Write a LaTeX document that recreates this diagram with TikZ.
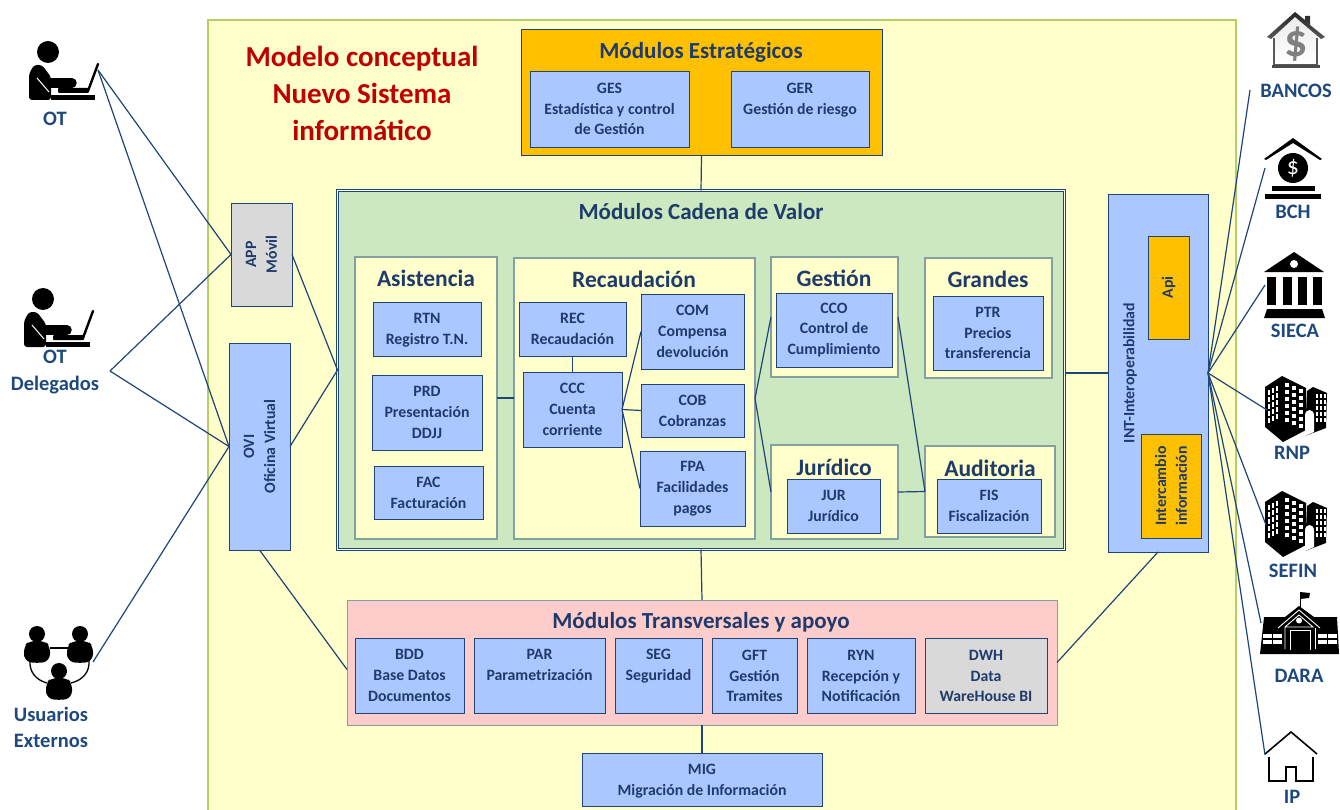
\documentclass[tikz,border=0pt]{standalone}
\usepackage{fontspec}
\setmainfont{Carlito}
\usetikzlibrary{positioning,shapes.geometric}
\definecolor{navytext}{HTML}{1F3B6B}
\definecolor{labeltext}{HTML}{1F497D}
\definecolor{linkblue}{HTML}{1F4477}
\definecolor{boxblue}{HTML}{ABC7FF}
\definecolor{boxedge}{HTML}{1F4477}
\definecolor{panelgreen}{HTML}{CBE8C0}
\definecolor{paleyellow}{HTML}{FFFFCC}
\definecolor{mainedge}{HTML}{B5CF67}
\definecolor{groupedge}{HTML}{84A0A0}
\definecolor{panelpink}{HTML}{FFCCCC}
\definecolor{amberbox}{HTML}{FFC000}
\definecolor{greybox}{HTML}{D9D9D9}
\definecolor{titlered}{HTML}{C00000}
\tikzset{
  laptop user/.pic={
    \fill (48,52) circle[radius=11pt];
    \fill[rounded corners=3pt] (29,100) -- (29,74) -- (34,65) -- (42,65) -- (51,77) -- (51,100) -- cycle;
    \draw[line width=9.5pt,line cap=round] (50,83) -- (72,83);
    \draw[white,line width=1pt] (37,78) -- (49,92);
    \fill (51,95) rectangle (95,100);
    \fill[rounded corners=1pt] (58,88) rectangle (89,93);
    \draw[line width=2.4pt,line cap=round] (88,91) -- (98,64);
  },
  bust/.pic={
    \fill (0,-9) circle[radius=8pt];
    \fill[rounded corners=6pt] (-13,17) -- (-13,3) -- (-8,-2) -- (8,-2) -- (13,3) -- (13,17) .. controls (5,20) and (-5,20) .. cycle;
  },
  tower/.pic={
    \fill (-1,9) -- (16,-2) -- (40,10) -- (40,52) -- (17,64) -- (-1,49) -- cycle;
    \fill (41,13) -- (47,9) -- (61,15) -- (60,50) -- (39,58) -- cycle;
    \foreach \wx/\wo in {1.5/0,5.5/-2,9.5/-4}
      \foreach \wy in {12,19,26,33,40}
        \fill[white] (\wx,{\wy+\wo}) rectangle +(2.4,4.6);
    \foreach \wx/\wo in {19/0,26/3,33/6}
      \foreach \wy in {5,12,19,26,33,40}
        \fill[white] (\wx,{\wy+\wo}) rectangle +(4.4,4.4);
    \foreach \wx in {50,54,58}
      \foreach \wy in {16,22,28,34,40}
        \fill[white] (\wx,\wy) rectangle +(2.4,3.6);
    \fill[white] (39,58) -- (39,38) .. controls (39,34) and (41,32) .. (43.5,32) .. controls (46,32) and (48,34) .. (48,38) -- (48,54) -- cycle;
  }
}
\begin{document}
\begin{tikzpicture}[
    x=1pt,y=-1pt,
    font=\bfseries,
    every edge/.style={draw=linkblue,line width=1.2pt},
    main panel/.style={draw=mainedge,line width=1.8pt,fill=paleyellow},
    strip panel/.style={draw=groupedge,line width=1pt,outer sep=0pt,inner sep=0pt},
    group box/.style={draw=groupedge,line width=1.3pt,fill=paleyellow,outer sep=0pt,inner sep=0pt},
    module box/.style={draw=boxedge,line width=.9pt,fill=boxblue,outer sep=0pt,inner sep=0pt,
      align=center,text=navytext,font=\fontsize{15.8}{20.8}\selectfont\bfseries},
    two line/.style={module box,text depth=-2.5pt},
    amber box/.style={module box,fill=amberbox},
    grey box/.style={module box,fill=greybox},
    panel title/.style={text=navytext,font=\fontsize{23}{26}\selectfont\bfseries},
    group title/.style={text=navytext,font=\fontsize{23.5}{26}\selectfont\bfseries},
    actor label/.style={text=labeltext,align=center,font=\fontsize{20.5}{26.5}\selectfont\bfseries}]

  \useasboundingbox (0,0) rectangle (1340,810);

  \path[main panel] (208,20) rectangle (1236,820);
  \node[text=titlered,align=center,font=\fontsize{29}{37}\selectfont\bfseries] (Title) at (362,93)
    {Modelo conceptual\\Nuevo Sistema\\informático};

  % modulos estrategicos
  \node[strip panel,draw=boxedge,fill=amberbox,minimum width=361pt,minimum height=126pt] (Estrategicos) at (701.5,93) {};
  \node[panel title] (EstrategicosT) at (701,52) {Módulos Estratégicos};
  \node[module box,minimum width=159pt,minimum height=76pt] (GES) at (609.5,109) {GES\\Estadística y control\\de Gestión};
  \node[module box,minimum width=138pt,minimum height=76pt] (GER) at (800,109) {GER\\Gestión de riesgo\\\mbox{}};

  % cadena de valor
  \node[strip panel,draw=boxedge,double,double distance=1pt,fill=panelgreen,minimum width=727pt,minimum height=359pt] (Cadena) at (701,370) {};
  \node[panel title] (CadenaT) at (701,212) {Módulos Cadena de Valor};

  \node[group box,minimum width=142pt,minimum height=282pt] (Asistencia) at (426,398) {};
  \node[group title] (AsistenciaT) at (426,278) {Asistencia};
  \node[two line,minimum width=108pt,minimum height=54pt] (RTN) at (427,329) {RTN\\Registro T.N.};
  \node[module box,minimum width=110pt,minimum height=75pt] (PRD) at (427,412.5) {PRD\\Presentación\\DDJJ};
  \node[two line,minimum width=109pt,minimum height=53pt] (FAC) at (428.5,492.5) {FAC\\Facturación};

  \node[group box,minimum width=241pt,minimum height=281pt] (Recaudacion) at (634.5,398.5) {};
  \node[group title] (RecaudacionT) at (634,279) {Recaudación};
  \node[two line,minimum width=107pt,minimum height=54pt] (REC) at (572.5,329) {REC\\Recaudación};
  \node[module box,minimum width=99pt,minimum height=75pt] (CCC) at (572.5,409.5) {CCC\\Cuenta\\corriente};
  \node[module box,minimum width=103pt,minimum height=75pt] (COM) at (692.5,331.5) {COM\\Compensa\\devolución};
  \node[two line,minimum width=103pt,minimum height=53pt] (COB) at (692.5,410.5) {COB\\Cobranzas};
  \node[module box,minimum width=105pt,minimum height=75pt] (FPA) at (692.5,488.5) {FPA\\Facilidades\\pagos};

  \node[group box,minimum width=127pt,minimum height=120pt] (Gestion) at (834.5,317) {};
  \node[group title] (GestionT) at (834,278) {Gestión};
  \node[module box,minimum width=116pt,minimum height=74pt] (CCO) at (834,330) {CCO\\Control de\\Cumplimiento};

  \node[group box,minimum width=127pt,minimum height=120pt] (Grandes) at (988.5,318) {};
  \node[group title] (GrandesT) at (988,279) {Grandes};
  \node[module box,minimum width=110pt,minimum height=74pt] (PTR) at (988,333) {PTR\\Precios\\transferencia};

  \node[group box,minimum width=127pt,minimum height=94pt] (Juridico) at (834.5,492) {};
  \node[group title] (JuridicoT) at (834,467) {Jurídico};
  \node[two line,minimum width=93pt,minimum height=54pt] (JUR) at (833.5,506) {JUR\\Jurídico};

  \node[group box,minimum width=130pt,minimum height=91pt] (Auditoria) at (990,491.5) {};
  \node[group title] (AuditoriaT) at (990,468) {Auditoria};
  \node[two line,minimum width=104pt,minimum height=54pt] (FIS) at (989,506) {FIS\\Fiscalización};

  % canales
  \node[grey box,rotate=90,minimum width=103pt,minimum height=61pt] (APP) at (261.5,254.5) {APP\\Móvil};
  \node[module box,rotate=90,minimum width=207pt,minimum height=61pt] (OVI) at (259.5,446.5) {OVI\\Oficina Virtual};

  % interoperabilidad
  \node[module box,minimum width=100pt,minimum height=358pt] (INT) at (1158,373) {};
  \node[text=navytext,rotate=90,font=\fontsize{15.8}{20.8}\selectfont\bfseries] (INTT) at (1130,373) {INT-Interoperabilidad};
  \node[amber box,rotate=90,minimum width=103pt,minimum height=41pt] (Api) at (1168.5,287.5) {Api};
  \node[amber box,rotate=90,minimum width=104pt,minimum height=60pt] (Intercambio) at (1171,486) {Intercambio\\información};

  % transversales
  \node[strip panel,fill=panelpink,minimum width=710pt,minimum height=125pt] (Transversales) at (702,662.5) {};
  \node[panel title] (TransversalesT) at (701,622) {Módulos Transversales y apoyo};
  \node[module box,minimum width=109pt,minimum height=75pt] (BDD) at (409.5,675.5) {BDD\\Base Datos\\Documentos};
  \node[module box,minimum width=131pt,minimum height=75pt] (PAR) at (539.5,675.5) {PAR\\Parametrización\\\mbox{}};
  \node[module box,minimum width=87pt,minimum height=75pt] (SEG) at (658.5,675.5) {SEG\\Seguridad\\\mbox{}};
  \node[module box,minimum width=85pt,minimum height=75pt] (GFT) at (754.5,676) {GFT\\Gestión\\Tramites};
  \node[module box,minimum width=108pt,minimum height=75pt] (RYN) at (861,676) {RYN\\Recepción y\\Notificación};
  \node[grey box,minimum width=122pt,minimum height=75pt] (DWH) at (986,676) {DWH\\Data\\WareHouse BI};

  \node[two line,minimum width=240pt,minimum height=53pt] (MIG) at (702,779.5) {MIG\\Migración de Información};

  % actores
  \pic (IconOT) at (0,0) {laptop user};
  \node[actor label] (OT) at (55,119) {OT};
  \coordinate (OTend) at (98,70);
  \pic (IconDelegados) at (-5,247) {laptop user};
  \node[actor label] (Delegados) at (55,372) {OT\\Delegados};
  \coordinate (Delegadosend) at (110,371);

  \pic (IconUsuarioA) at (37,643) {bust};
  \pic (IconUsuarioB) at (80,643) {bust};
  \pic (IconUsuarioC) at (59,680) {bust};
  \draw[line width=1.3pt] (50,648) -- (68,648);
  \draw[line width=1.3pt] (30,660) .. controls (29,672) and (36,680) .. (47,683);
  \draw[line width=1.3pt] (89,660) .. controls (90,672) and (83,680) .. (71,683);
  \node[actor label] (Usuarios) at (51,727.5) {Usuarios\\Externos};
  \coordinate (Usuariosend) at (93,662);

  % entidades
  \fill[white,top color=gray!15,bottom color=white] (1273,36) -- (1295,18) -- (1318,36) -- (1318,65) -- (1273,65) -- cycle;
  \path[top color=black!85,bottom color=black!65] (1267,37) -- (1295,12) -- (1305,20) -- (1305,16) -- (1310,16) -- (1310,25) -- (1325,37) -- (1321,39) -- (1295,17) -- (1271,39) -- cycle;
  \draw[gray!70!black,line width=1.6pt] (1274,38) -- (1274,65) -- (1317,65) -- (1317,38);
  \fill[black!70] (1272,65) rectangle (1320,68);
  \node[text=gray,font=\fontsize{46}{46}\selectfont\bfseries] (IconBancos) at (1296,44) {\$};
  \node[actor label] (BANCOS) at (1296,91) {BANCOS};
  \coordinate (BANCOSend) at (1250,90);

  \fill (1264,159) -- (1293,138) -- (1322,159) -- (1320,160) -- (1293,143) -- (1266,160) -- cycle;
  \node[circle,fill=black,text=white,minimum size=30pt,inner sep=0pt,font=\fontsize{24}{24}\selectfont] (IconBCH) at (1293,168) {\$};
  \fill (1272,186) rectangle (1315,191);
  \fill (1265,194) rectangle (1321,199);
  \node[actor label] (BCH) at (1293,212) {BCH};
  \coordinate (BCHend) at (1265,168);

  \fill (1264,272) -- (1294,252) -- (1324,272) -- cycle;
  \fill[white] (1294,264) circle[radius=4pt];
  \foreach \colx in {1267,1283,1298,1313}
    \fill (\colx,277) rectangle +(9,28);
  \fill (1264,318) -- (1267,309) -- (1322,309) -- (1325,318) -- cycle;
  \node[actor label] (SIECA) at (1295,331) {SIECA};
  \coordinate (SIECAend) at (1265,285);

  \pic (IconRNP) at (1266,378) {tower};
  \node[actor label] (RNP) at (1292,453) {RNP};
  \coordinate (RNPend) at (1267,410);
  \pic (IconSEFIN) at (1266,493) {tower};
  \node[actor label] (SEFIN) at (1293,571) {SEFIN};
  \coordinate (SEFINend) at (1266,525);

  \fill (1264,617) -- (1285,617) -- (1299,606) -- (1314,617) -- (1337,617) -- (1339,654) -- (1260,654) -- cycle;
  \draw[line width=1pt] (1300,608) -- (1300,594);
  \fill (1300,592) -- (1310,593) -- (1309,598) -- (1300,599) -- cycle;
  \draw[white,line width=.9pt] (1278,628) -- (1299,610) -- (1320,628);
  \draw[white,line width=.9pt] (1285,649) -- (1285,627) -- (1299,615) -- (1313,627) -- (1285,627);
  \draw[white,line width=.9pt] (1315,628) -- (1315,649);
  \draw[white,line width=.9pt] (1290,650) -- (1290,630) -- (1310,630) -- (1310,650);
  \fill[white] (1299,620.5) circle[radius=3pt];
  \foreach \winx in {1263,1273,1318,1328}
    \foreach \winy in {634,640}
      \fill[white] (\winx,\winy) rectangle +(8.5,4);
  \node[actor label] (DARA) at (1299,676) {DARA};
  \coordinate (DARAend) at (1261,623);

  \draw[line width=1.6pt] (1265,754) -- (1291,732) -- (1317,754);
  \draw[line width=1.6pt] (1269,757) -- (1269,781) -- (1286,781) -- (1286,767) -- (1296,767) -- (1296,781) -- (1313,781) -- (1313,757);
  \node[actor label] (IP) at (1292,797) {IP};
  \coordinate (IPend) at (1265,755);

  \path
    (OTend)
         edge (APP.north)
         edge (OVI.north)
    (Delegadosend)
         edge (APP.north)
         edge (OVI.north)
    (Usuariosend)
         edge (OVI.north)
    (Cadena.west)
         edge (APP.south)
         edge (OVI.south)
    (OVI.west)
         edge ([yshift=-7pt]Transversales.west)
    (Estrategicos.south)
         edge (Cadena.north)
    (Cadena.south)
         edge (Transversales.north)
    (Transversales.south)
         edge (MIG.north)
    (INT.west)
         edge (INT.west -| Cadena.east)
    (INT.south)
         edge (Transversales.east)
    (INT.east)
         edge (BANCOSend)
         edge (BCHend)
         edge (SIECAend)
         edge (RNPend)
         edge (SEFINend)
         edge (DARAend)
         edge (IPend)
    (Asistencia.east)
         edge (Asistencia.east -| Recaudacion.west)
    (REC.south)
         edge (REC.south |- CCC.north)
    (CCC.east)
         edge (COM.west)
         edge (COB.west)
         edge (FPA.west)
    (Recaudacion.east)
         edge (Gestion.west)
         edge (Juridico.west)
    (Auditoria.west)
         edge (Gestion.east)
         edge (Juridico.east);
\end{tikzpicture}
\end{document}
